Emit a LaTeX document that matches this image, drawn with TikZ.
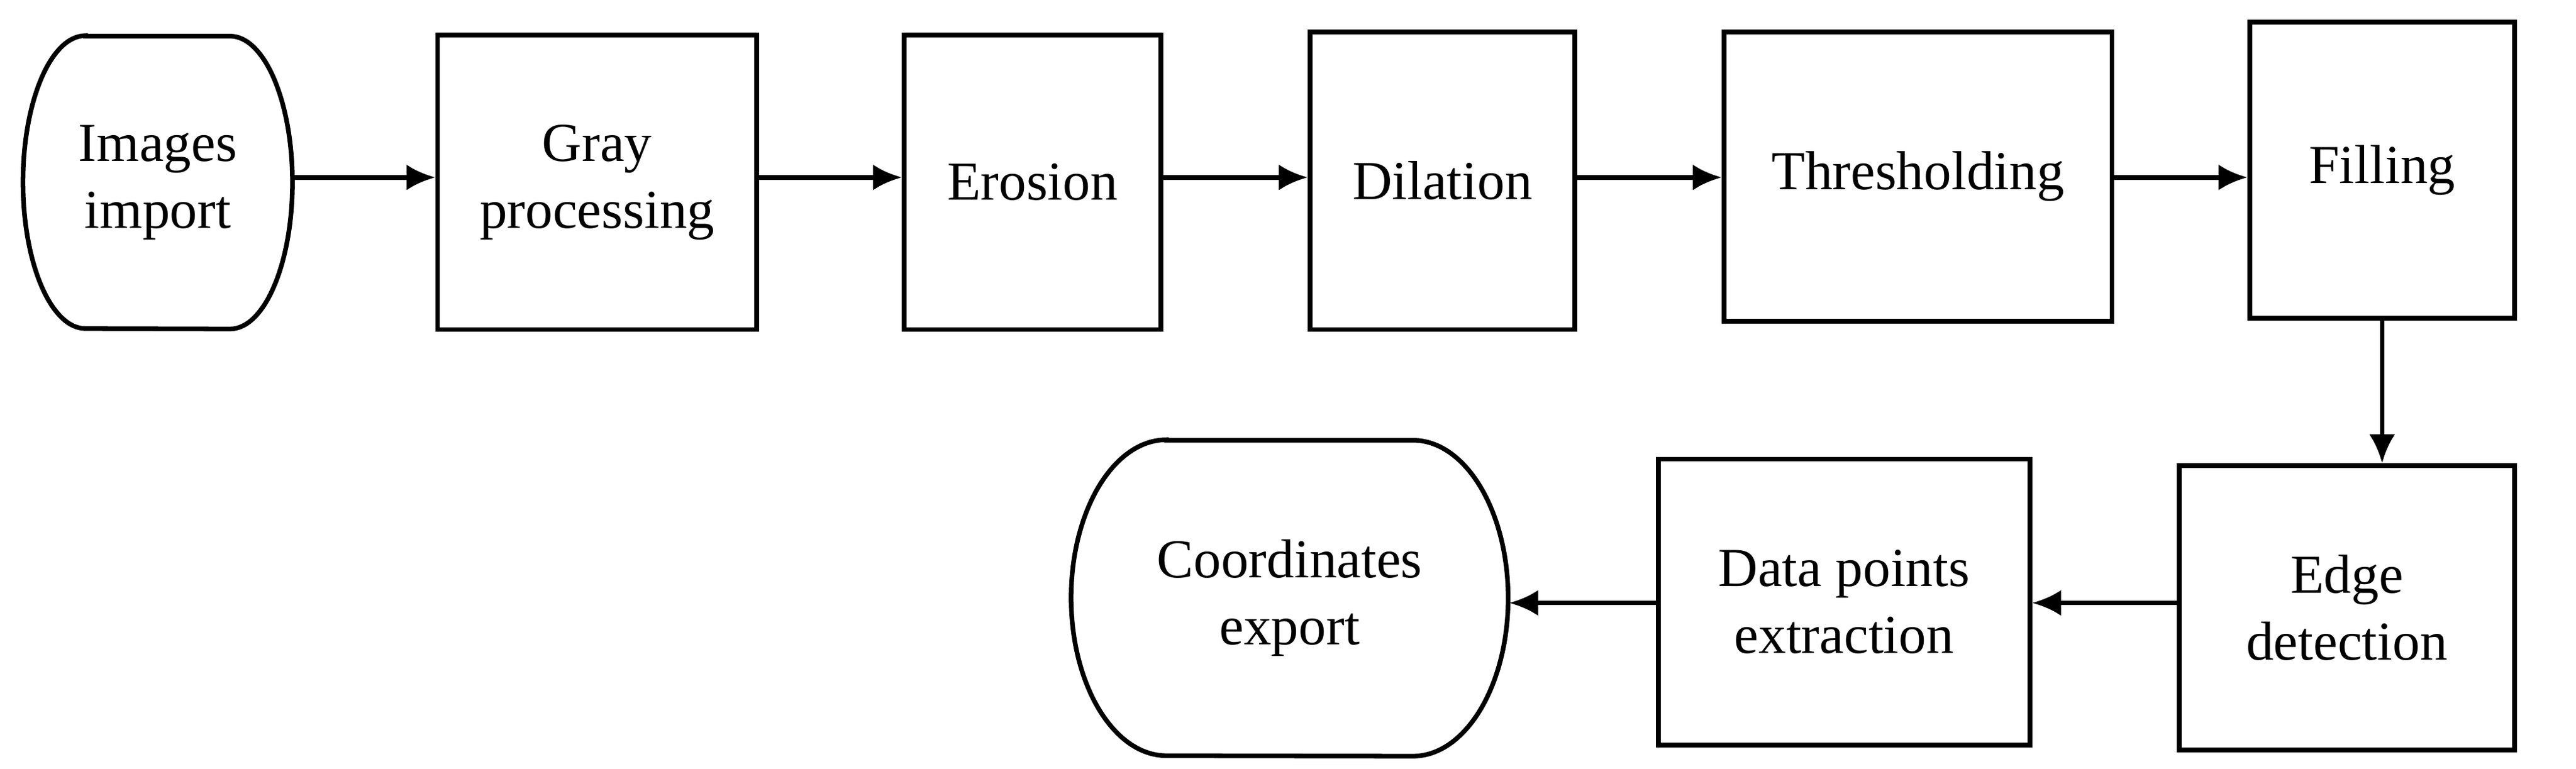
\documentclass[tikz,border=0pt]{standalone}
\usepackage{fontspec}
\setmainfont{Liberation Serif}
\usetikzlibrary{arrows.meta}
\begin{document}
\begin{tikzpicture}[x=0.01cm,y=-0.01cm,
  box/.style={draw,line width=0.8pt,align=center,font=\fontsize{9.5}{11.6}\selectfont,inner sep=0pt},
  term/.style={align=center,font=\fontsize{9.5}{11.6}\selectfont,inner sep=0pt},
  arr/.style={line width=0.8pt,-{Latex[length=5pt,width=4.5pt]}}]
\useasboundingbox (0,0) rectangle (1568,468);
\newcommand{\boxat}[6]{\node[box,minimum width=#4*0.01cm-0.8pt,minimum height=#5*0.01cm-0.8pt] (#1) at ({(#2+#4/2)},{(#3+#5/2)}) {#6};}
% stadium: name, x1,y1,x2,y2,r,text
\newcommand{\stad}[7]{\node[term,minimum width=(#4-#2)*0.01cm,minimum height=(#5-#3)*0.01cm] (#1) at ({(#2+#4)/2},{(#3+#5)/2}) {#7};
 \draw[line width=0.8pt] (#2+#6,#3) -- (#4-#6,#3) arc[start angle=90,end angle=-90,x radius=#6*0.01cm,y radius=(#5-#3)*0.005cm] -- (#2+#6,#5) arc[start angle=270,end angle=90,x radius=#6*0.01cm,y radius=(#5-#3)*0.005cm] -- cycle;}
\stad{imp}{14}{22}{178}{200}{38}{Images\\import}
\boxat{gray}{265}{20}{197}{182}{Gray\\processing}
\boxat{ero}{549}{20}{159}{182}{Erosion}
\boxat{dil}{796}{18}{164}{184}{Dilation}
\boxat{thr}{1048}{18}{239}{179}{Thresholding}
\boxat{fil}{1368}{12}{164}{183}{Filling}
\boxat{edge}{1325}{282}{207}{176}{Edge\\detection}
\boxat{dat}{1008}{278}{229}{177}{Data points\\extraction}
\stad{exp}{652}{268}{918}{460}{58}{Coordinates\\export}
\draw[arr] (imp.east|-0,108) -- (gray.west|-0,108);
\draw[arr] (gray.east|-0,108) -- (ero.west|-0,108);
\draw[arr] (ero.east|-0,108) -- (dil.west|-0,108);
\draw[arr] (dil.east|-0,108) -- (thr.west|-0,108);
\draw[arr] (thr.east|-0,108) -- (fil.west|-0,108);
\draw[arr] (fil.south-|1450,0) -- (edge.north-|1450,0);
\draw[arr] (edge.west|-0,367) -- (dat.east|-0,367);
\draw[arr] (dat.west|-0,367) -- (exp.east|-0,367);
\end{tikzpicture}
\end{document}
